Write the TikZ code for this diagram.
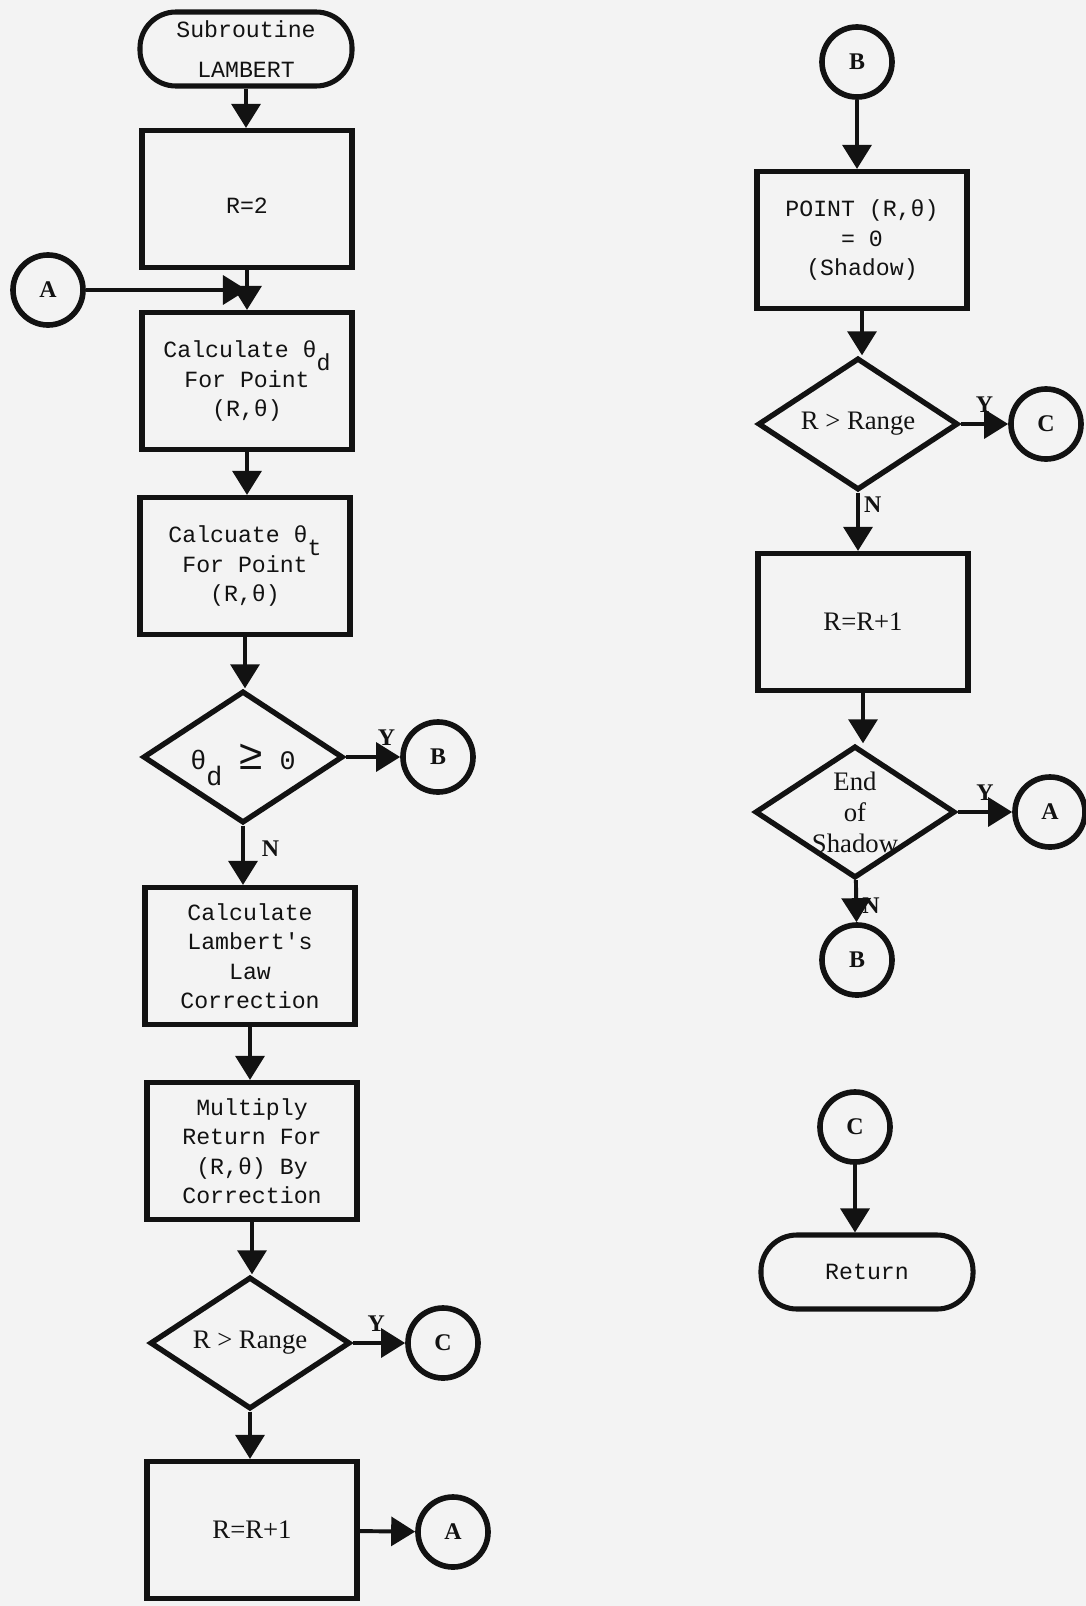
\documentclass[tikz,border=0pt]{standalone}
\usepackage{fontspec}
\setmainfont{Liberation Serif}
\setmonofont{Liberation Mono}
\usetikzlibrary{shapes.geometric, arrows.meta}
\definecolor{ink}{HTML}{121212}
\definecolor{paper}{HTML}{F3F3F3}
\newcommand\flowtt{\ttfamily\fontsize{16.5}{21}\selectfont}
\newcommand\flowrm{\rmfamily\fontsize{19}{22}\selectfont}
\newcommand\thsub[1]{\smash{\raisebox{-1.1ex}{#1}}}
\begin{document}
\begin{tikzpicture}[x=0.025cm, y=-0.025cm,
  every node/.style={inner sep=0pt, align=center, draw=ink, text=ink},
  procbox/.style={rectangle, line width=3.8pt, minimum width=5.25cm, minimum height=3.42cm, font=\flowtt},
  terminal/.style={rectangle, rounded corners=0.9cm, line width=3.6pt, minimum width=5.3cm, minimum height=1.85cm, font=\flowtt},
  decision/.style={diamond, line width=3.8pt, minimum width=5cm, minimum height=3.3cm, inner sep=-20pt, font=\flowrm},
  conn/.style={circle, line width=4pt, minimum size=1.75cm, font=\rmfamily\bfseries\fontsize{17}{17}\selectfont},
  flow/.style={-{Triangle[width=0.72cm, length=0.6cm]}, line width=2.8pt, draw=ink},
  yn/.style={draw=none, font=\rmfamily\bfseries\fontsize{17}{17}\selectfont}]
  \fill[paper] (0,0) rectangle (1086,1606);
  \useasboundingbox (0,0) rectangle (1086,1606);

  % Left column
  \node[terminal] (start) at (246, 49) {Subroutine\\[8pt]LAMBERT};
  \node[procbox] (init) at (247, 199) {\raisebox{-0.7cm}{R=2}};
  \node[conn] (inA) at (48, 290) {A};
  \node[procbox] (calcd) at (247, 381) {Calculate θ\thsub{d}\\For Point\\(R,θ)};
  \node[procbox] (calct) at (245, 566) {Calcuate θ\thsub{t}\\For Point\\(R,θ)};
  \node[decision] (testd) at (243, 757) {\flowtt\fontsize{19}{21}\selectfont θ\thsub{d} {\fontsize{30}{30}\selectfont ≥} 0};
  \node[conn] (toB) at (438, 757) {B};
  \node[procbox] (lambert) at (250, 956) {Calculate\\Lambert's\\Law\\Correction};
  \node[procbox] (mult) at (252, 1151) {Multiply\\Return For\\(R,θ) By\\Correction};
  \node[decision] (range1) at (250, 1343) {R > Range};
  \node[conn] (toC) at (443, 1343) {C};
  \node[procbox] (incr1) at (252, 1530) {\flowrm R=R+1};
  \node[conn] (toA) at (453, 1532) {A};

  % Right column
  \node[conn] (fromB) at (857, 62) {B};
  \node[procbox] (shadow) at (862, 240) {POINT (R,θ)\\= 0\\(Shadow)};
  \node[decision] (range2) at (858, 424) {R > Range};
  \node[conn] (toC2) at (1046, 424) {C};
  \node[procbox] (incr2) at (863, 622) {\flowrm R=R+1};
  \node[decision] (endsh) at (855, 812) {End\\of\\Shadow};
  \node[conn] (toA2) at (1050, 812) {A};
  \node[conn] (toB2) at (857, 960) {B};
  \node[conn] (fromC) at (855, 1127) {C};
  \node[terminal] (ret) at (867, 1272) {Return};

  % Edges - left column
  \coordinate (joinA) at (init.south |- inA);
  \draw[flow] (start) -- (start |- init.north);
  \draw[flow] (init) -- (init |- calcd.north);
  \draw[flow] (inA) -- (joinA);
  \draw[flow] (calcd) -- (calcd |- calct.north);
  \draw[flow] (calct) -- (calct |- testd.north);
  \draw[flow] (testd) -- node[yn, pos=0.75, above=7pt] {Y} (toB);
  \draw[flow] (testd) -- node[yn, pos=0.38, right=12pt] {N} (testd |- lambert.north);
  \draw[flow] (lambert) -- (lambert |- mult.north);
  \draw[flow] (mult) -- (mult |- range1.north);
  \draw[flow] (range1) -- node[yn, pos=0.45, above=7pt] {Y} (toC);
  \draw[flow] (range1) -- (range1 |- incr1.north);
  \draw[flow] (incr1) -- (toA);

  % Edges - right column
  \draw[flow] (fromB) -- (fromB |- shadow.north);
  \draw[flow] (shadow) -- (shadow |- range2.north);
  \draw[flow] (range2) -- node[yn, pos=0.5, above=7pt] {Y} (toC2);
  \draw[flow] (range2) -- node[yn, pos=0.2, right=3pt] {N} (range2 |- incr2.north);
  \draw[flow] (incr2) -- (incr2 |- endsh.north);
  \draw[flow] (endsh) -- node[yn, pos=0.5, above=7pt] {Y} (toA2);
  \draw[flow] (endsh) -- node[yn, pos=0.6, right=3pt] {N} (toB2);
  \draw[flow] (fromC) -- (fromC |- ret.north);
\end{tikzpicture}
\end{document}
